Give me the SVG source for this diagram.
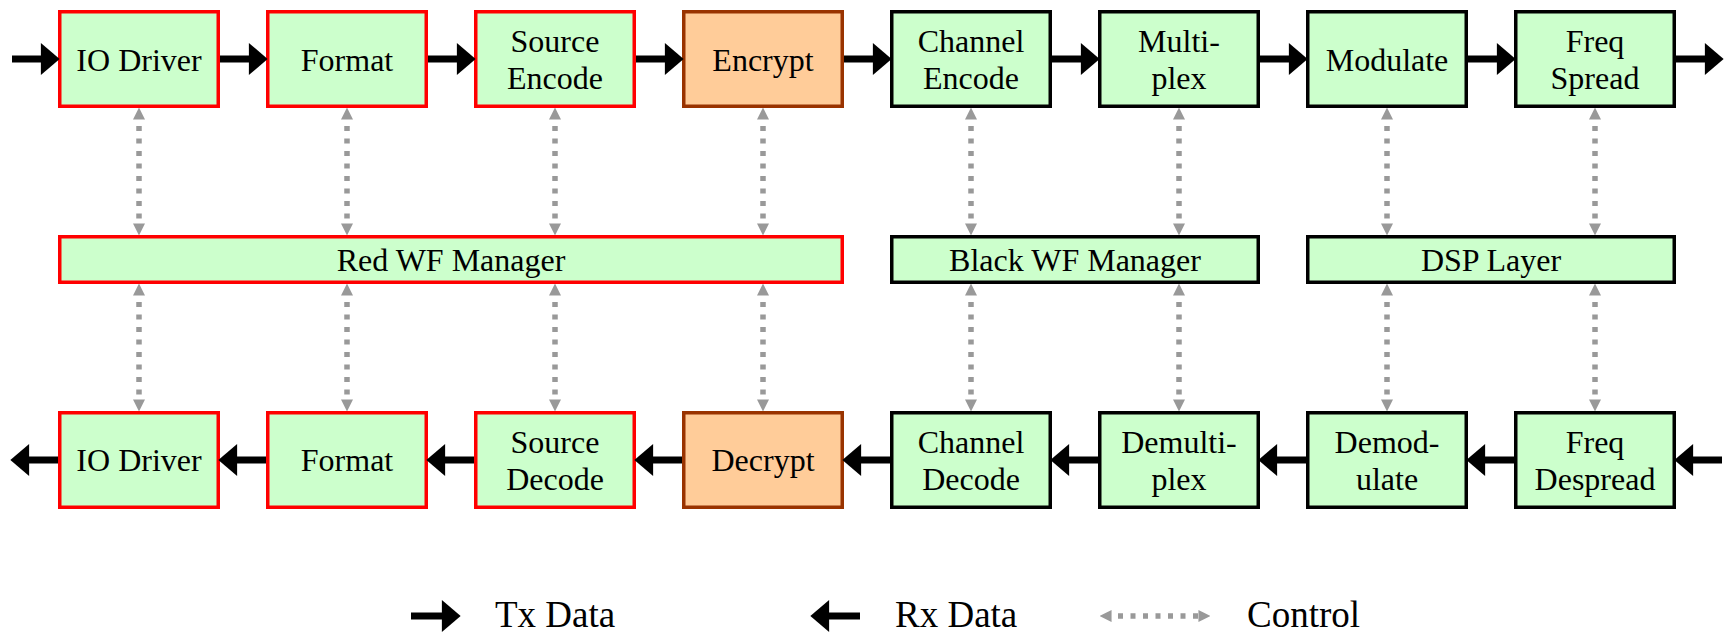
<svg xmlns="http://www.w3.org/2000/svg" width="1728" height="635" viewBox="0 0 1728 635">
<style>
.box{fill:#ccffcc;stroke-width:3.5}
.red{stroke:#ff0000}
.blk{stroke:#000000}
.enc{fill:#ffcc99;stroke:#993300}
text{font-family:"Liberation Serif","Times New Roman",serif;font-size:32px;fill:#000;text-anchor:middle}
.leg{font-size:37px;text-anchor:start}
.data{stroke:#000;stroke-width:7;fill:none}
.ctl{stroke:#999999;stroke-width:5.5;stroke-dasharray:5 7.5;stroke-dashoffset:5.5;fill:none}
</style>
<defs>
<marker id="dh" markerUnits="userSpaceOnUse" markerWidth="20" markerHeight="32" viewBox="0 0 17 29" refX="1" refY="14.5" orient="auto">
<path d="M0,0 L17,14.5 L0,29 Z" fill="#000"/>
</marker>
<marker id="ch" markerUnits="userSpaceOnUse" markerWidth="12" markerHeight="13" viewBox="0 0 11 11" refX="0.5" refY="5.5" orient="auto-start-reverse">
<path d="M0,0 L11,5.5 L0,11 Z" fill="#999999"/>
</marker>
</defs>
<rect width="1728" height="635" fill="#ffffff"/>

<g id="tx-io"><rect class="box red" x="59.75" y="11.75" width="158.5" height="94.5"/><text x="139" y="70.5">IO Driver</text></g>
<g id="tx-format"><rect class="box red" x="267.75" y="11.75" width="158.5" height="94.5"/><text x="347" y="70.5">Format</text></g>
<g id="tx-source"><rect class="box red" x="475.75" y="11.75" width="158.5" height="94.5"/><text x="555" y="52">Source</text><text x="555" y="89">Encode</text></g>
<g id="tx-encrypt"><rect class="box enc" x="683.75" y="11.75" width="158.5" height="94.5"/><text x="763" y="70.5">Encrypt</text></g>
<g id="tx-channel"><rect class="box blk" x="891.75" y="11.75" width="158.5" height="94.5"/><text x="971" y="52">Channel</text><text x="971" y="89">Encode</text></g>
<g id="tx-multiplex"><rect class="box blk" x="1099.75" y="11.75" width="158.5" height="94.5"/><text x="1179" y="52">Multi-</text><text x="1179" y="89">plex</text></g>
<g id="tx-modulate"><rect class="box blk" x="1307.75" y="11.75" width="158.5" height="94.5"/><text x="1387" y="70.5">Modulate</text></g>
<g id="tx-spread"><rect class="box blk" x="1515.75" y="11.75" width="158.5" height="94.5"/><text x="1595" y="52">Freq</text><text x="1595" y="89">Spread</text></g>

<g id="red-manager"><rect class="box red" x="59.75" y="236.75" width="782.5" height="45.5"/><text x="451" y="271">Red WF Manager</text></g>
<g id="black-manager"><rect class="box blk" x="891.75" y="236.75" width="366.5" height="45.5"/><text x="1075" y="271">Black WF Manager</text></g>
<g id="dsp-layer"><rect class="box blk" x="1307.75" y="236.75" width="366.5" height="45.5"/><text x="1491" y="271">DSP Layer</text></g>

<g id="rx-io"><rect class="box red" x="59.75" y="412.75" width="158.5" height="94.5"/><text x="139" y="471">IO Driver</text></g>
<g id="rx-format"><rect class="box red" x="267.75" y="412.75" width="158.5" height="94.5"/><text x="347" y="471">Format</text></g>
<g id="rx-source"><rect class="box red" x="475.75" y="412.75" width="158.5" height="94.5"/><text x="555" y="452.5">Source</text><text x="555" y="489.5">Decode</text></g>
<g id="rx-decrypt"><rect class="box enc" x="683.75" y="412.75" width="158.5" height="94.5"/><text x="763" y="471">Decrypt</text></g>
<g id="rx-channel"><rect class="box blk" x="891.75" y="412.75" width="158.5" height="94.5"/><text x="971" y="452.5">Channel</text><text x="971" y="489.5">Decode</text></g>
<g id="rx-demultiplex"><rect class="box blk" x="1099.75" y="412.75" width="158.5" height="94.5"/><text x="1179" y="452.5">Demulti-</text><text x="1179" y="489.5">plex</text></g>
<g id="rx-demodulate"><rect class="box blk" x="1307.75" y="412.75" width="158.5" height="94.5"/><text x="1387" y="452.5">Demod-</text><text x="1387" y="489.5">ulate</text></g>
<g id="rx-despread"><rect class="box blk" x="1515.75" y="412.75" width="158.5" height="94.5"/><text x="1595" y="452.5">Freq</text><text x="1595" y="489.5">Despread</text></g>

<g id="connectors">
<g id="tx-data">
<line class="data" x1="12" y1="59" x2="42" y2="59" marker-end="url(#dh)"/>
<line class="data" x1="220" y1="59" x2="250" y2="59" marker-end="url(#dh)"/>
<line class="data" x1="428" y1="59" x2="458" y2="59" marker-end="url(#dh)"/>
<line class="data" x1="636" y1="59" x2="666" y2="59" marker-end="url(#dh)"/>
<line class="data" x1="844" y1="59" x2="874" y2="59" marker-end="url(#dh)"/>
<line class="data" x1="1052" y1="59" x2="1082" y2="59" marker-end="url(#dh)"/>
<line class="data" x1="1260" y1="59" x2="1290" y2="59" marker-end="url(#dh)"/>
<line class="data" x1="1468" y1="59" x2="1498" y2="59" marker-end="url(#dh)"/>
<line class="data" x1="1676" y1="59" x2="1706" y2="59" marker-end="url(#dh)"/>
</g>
<g id="rx-data">
<line class="data" x1="58" y1="460" x2="28" y2="460" marker-end="url(#dh)"/>
<line class="data" x1="266" y1="460" x2="236" y2="460" marker-end="url(#dh)"/>
<line class="data" x1="474" y1="460" x2="444" y2="460" marker-end="url(#dh)"/>
<line class="data" x1="682" y1="460" x2="652" y2="460" marker-end="url(#dh)"/>
<line class="data" x1="890" y1="460" x2="860" y2="460" marker-end="url(#dh)"/>
<line class="data" x1="1098" y1="460" x2="1068" y2="460" marker-end="url(#dh)"/>
<line class="data" x1="1306" y1="460" x2="1276" y2="460" marker-end="url(#dh)"/>
<line class="data" x1="1514" y1="460" x2="1484" y2="460" marker-end="url(#dh)"/>
<line class="data" x1="1722" y1="460" x2="1692" y2="460" marker-end="url(#dh)"/>
</g>
<g id="control-top">
<line class="ctl" x1="139" y1="119" x2="139" y2="224" marker-start="url(#ch)" marker-end="url(#ch)"/>
<line class="ctl" x1="347" y1="119" x2="347" y2="224" marker-start="url(#ch)" marker-end="url(#ch)"/>
<line class="ctl" x1="555" y1="119" x2="555" y2="224" marker-start="url(#ch)" marker-end="url(#ch)"/>
<line class="ctl" x1="763" y1="119" x2="763" y2="224" marker-start="url(#ch)" marker-end="url(#ch)"/>
<line class="ctl" x1="971" y1="119" x2="971" y2="224" marker-start="url(#ch)" marker-end="url(#ch)"/>
<line class="ctl" x1="1179" y1="119" x2="1179" y2="224" marker-start="url(#ch)" marker-end="url(#ch)"/>
<line class="ctl" x1="1387" y1="119" x2="1387" y2="224" marker-start="url(#ch)" marker-end="url(#ch)"/>
<line class="ctl" x1="1595" y1="119" x2="1595" y2="224" marker-start="url(#ch)" marker-end="url(#ch)"/>
</g>
<g id="control-bottom">
<line class="ctl" x1="139" y1="295" x2="139" y2="400" marker-start="url(#ch)" marker-end="url(#ch)"/>
<line class="ctl" x1="347" y1="295" x2="347" y2="400" marker-start="url(#ch)" marker-end="url(#ch)"/>
<line class="ctl" x1="555" y1="295" x2="555" y2="400" marker-start="url(#ch)" marker-end="url(#ch)"/>
<line class="ctl" x1="763" y1="295" x2="763" y2="400" marker-start="url(#ch)" marker-end="url(#ch)"/>
<line class="ctl" x1="971" y1="295" x2="971" y2="400" marker-start="url(#ch)" marker-end="url(#ch)"/>
<line class="ctl" x1="1179" y1="295" x2="1179" y2="400" marker-start="url(#ch)" marker-end="url(#ch)"/>
<line class="ctl" x1="1387" y1="295" x2="1387" y2="400" marker-start="url(#ch)" marker-end="url(#ch)"/>
<line class="ctl" x1="1595" y1="295" x2="1595" y2="400" marker-start="url(#ch)" marker-end="url(#ch)"/>
</g>
</g>

<g id="legend">
<line class="data" x1="411" y1="616" x2="443" y2="616" marker-end="url(#dh)"/>
<text class="leg" x="495" y="627">Tx Data</text>
<line class="data" x1="860" y1="616" x2="828" y2="616" marker-end="url(#dh)"/>
<text class="leg" x="895" y="627">Rx Data</text>
<line class="ctl" x1="1111" y1="616" x2="1199" y2="616" marker-start="url(#ch)" marker-end="url(#ch)"/>
<text class="leg" x="1247" y="627">Control</text>
</g>
</svg>
